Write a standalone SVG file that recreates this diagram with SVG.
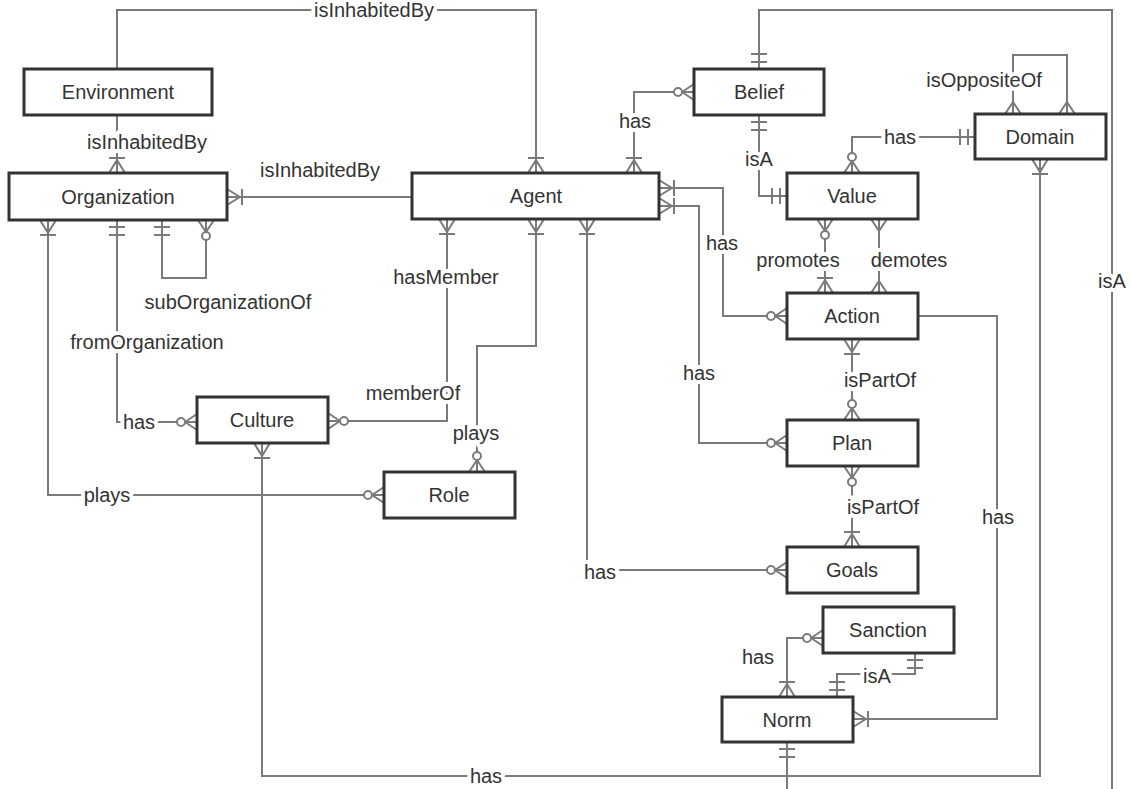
<svg xmlns="http://www.w3.org/2000/svg" width="1131" height="789" viewBox="0 0 1131 789">
<style>
.box{fill:#fff;stroke:#333;stroke-width:3}
.nt{font-family:"Liberation Sans",Arial,sans-serif;font-size:20px;fill:#333;text-anchor:middle;dominant-baseline:central}
.ln{fill:none;stroke:#7a7a7a;stroke-width:2}
.lb{font-family:"Liberation Sans",Arial,sans-serif;font-size:20px;fill:#333;text-anchor:middle;dominant-baseline:central;stroke:#fff;stroke-width:8;paint-order:stroke;stroke-linejoin:round}
.mk{fill:none;stroke:#7a7a7a;stroke-width:2}
</style>
<defs>
<marker id="om" markerUnits="userSpaceOnUse" orient="auto-start-reverse" overflow="visible" refX="0" refY="0" markerWidth="1" markerHeight="1">
<path class="mk" d="M-13,0 L0,-8 M-13,0 L0,8 M-15,-8 L-15,8"/>
</marker>
<marker id="zm" markerUnits="userSpaceOnUse" orient="auto-start-reverse" overflow="visible" refX="0" refY="0" markerWidth="1" markerHeight="1">
<path class="mk" d="M-12,0 L0,-8 M-12,0 L0,8"/>
<circle cx="-16" cy="0" r="4" fill="#fff" stroke="#7a7a7a" stroke-width="2"/>
</marker>
<marker id="one" markerUnits="userSpaceOnUse" orient="auto-start-reverse" overflow="visible" refX="0" refY="0" markerWidth="1" markerHeight="1">
<path class="mk" d="M-7,-8 L-7,8 M-15,-8 L-15,8"/>
</marker>
<marker id="many" markerUnits="userSpaceOnUse" orient="auto-start-reverse" overflow="visible" refX="0" refY="0" markerWidth="1" markerHeight="1">
<path class="mk" d="M-12,0 L0,-8 M-12,0 L0,8"/>
</marker>
</defs>
<rect width="1131" height="789" fill="#fff"/>
<g id="connectors">
<path class="ln" d="M117,69 V10 H536 V173" marker-end="url(#om)"/>
<path class="ln" d="M117,115 V173" marker-end="url(#om)"/>
<path class="ln" d="M227,197 H412" marker-start="url(#om)"/>
<path class="ln" d="M162,220 V278 H206 V220" marker-start="url(#one)" marker-end="url(#zm)"/>
<path class="ln" d="M117,220 V422 H197" marker-start="url(#one)" marker-end="url(#zm)"/>
<path class="ln" d="M48,220 V495 H384" marker-start="url(#om)" marker-end="url(#zm)"/>
<path class="ln" d="M447,219 V421 H328" marker-start="url(#om)" marker-end="url(#zm)"/>
<path class="ln" d="M536,219 V346 H477 V472" marker-start="url(#om)" marker-end="url(#zm)"/>
<path class="ln" d="M587,219 V570 H787" marker-start="url(#om)" marker-end="url(#zm)"/>
<path class="ln" d="M634,173 V92 H694" marker-start="url(#om)" marker-end="url(#zm)"/>
<path class="ln" d="M659,188 H723 V316 H787" marker-start="url(#om)" marker-end="url(#zm)"/>
<path class="ln" d="M659,206 H699 V443 H787" marker-start="url(#om)" marker-end="url(#zm)"/>
<path class="ln" d="M759,69 V10 H1112 V789" marker-start="url(#one)"/>
<path class="ln" d="M759,115 V196 H787" marker-start="url(#one)" marker-end="url(#one)"/>
<path class="ln" d="M852,173 V137 H975" marker-start="url(#zm)" marker-end="url(#one)"/>
<path class="ln" d="M1013,114 V55 H1067 V114" marker-start="url(#many)" marker-end="url(#many)"/>
<path class="ln" d="M262,443 V776 H1040 V159" marker-start="url(#om)" marker-end="url(#om)"/>
<path class="ln" d="M825,219 V293" marker-start="url(#zm)" marker-end="url(#om)"/>
<path class="ln" d="M879,219 V293" marker-start="url(#many)" marker-end="url(#many)"/>
<path class="ln" d="M852,339 V420" marker-start="url(#om)" marker-end="url(#zm)"/>
<path class="ln" d="M852,466 V547" marker-start="url(#zm)" marker-end="url(#om)"/>
<path class="ln" d="M918,316 H997 V719 H853" marker-end="url(#om)"/>
<path class="ln" d="M787,697 V638 H823" marker-start="url(#om)" marker-end="url(#zm)"/>
<path class="ln" d="M837,697 V674 H915 V653" marker-start="url(#one)" marker-end="url(#one)"/>
<path class="ln" d="M787,742 V789" marker-start="url(#one)"/>
<text class="lb" x="374" y="10">isInhabitedBy</text>
<text class="lb" x="147" y="142">isInhabitedBy</text>
<text class="lb" x="320" y="170">isInhabitedBy</text>
<text class="lb" x="228" y="302">subOrganizationOf</text>
<text class="lb" x="147" y="342">fromOrganization</text>
<text class="lb" x="139" y="422">has</text>
<text class="lb" x="107" y="495">plays</text>
<text class="lb" x="446" y="277">hasMember</text>
<text class="lb" x="413" y="393">memberOf</text>
<text class="lb" x="476" y="433">plays</text>
<text class="lb" x="600" y="572">has</text>
<text class="lb" x="635" y="121">has</text>
<text class="lb" x="722" y="243">has</text>
<text class="lb" x="699" y="373">has</text>
<text class="lb" x="759" y="159">isA</text>
<text class="lb" x="900" y="137">has</text>
<text class="lb" x="984" y="80">isOppositeOf</text>
<text class="lb" x="1112" y="281">isA</text>
<text class="lb" x="798" y="260">promotes</text>
<text class="lb" x="909" y="260">demotes</text>
<text class="lb" x="880" y="380">isPartOf</text>
<text class="lb" x="883" y="507">isPartOf</text>
<text class="lb" x="998" y="517">has</text>
<text class="lb" x="758" y="657">has</text>
<text class="lb" x="877" y="676">isA</text>
<text class="lb" x="486" y="776">has</text>
</g>
<g id="Environment"><rect class="box" x="24" y="69" width="188" height="46"/><text class="nt" x="118" y="92">Environment</text></g>
<g id="Organization"><rect class="box" x="9" y="173" width="218" height="47"/><text class="nt" x="118" y="197">Organization</text></g>
<g id="Agent"><rect class="box" x="412" y="173" width="247" height="46"/><text class="nt" x="536" y="196">Agent</text></g>
<g id="Belief"><rect class="box" x="694" y="69" width="130" height="46"/><text class="nt" x="759" y="92">Belief</text></g>
<g id="Domain"><rect class="box" x="975" y="114" width="131" height="45"/><text class="nt" x="1040" y="137">Domain</text></g>
<g id="Value"><rect class="box" x="787" y="173" width="131" height="46"/><text class="nt" x="852" y="196">Value</text></g>
<g id="Action"><rect class="box" x="787" y="293" width="131" height="46"/><text class="nt" x="852" y="316">Action</text></g>
<g id="Plan"><rect class="box" x="787" y="420" width="131" height="46"/><text class="nt" x="852" y="443">Plan</text></g>
<g id="Goals"><rect class="box" x="787" y="547" width="131" height="46"/><text class="nt" x="852" y="570">Goals</text></g>
<g id="Sanction"><rect class="box" x="823" y="607" width="131" height="46"/><text class="nt" x="888" y="630">Sanction</text></g>
<g id="Norm"><rect class="box" x="722" y="697" width="131" height="45"/><text class="nt" x="787" y="720">Norm</text></g>
<g id="Culture"><rect class="box" x="197" y="397" width="131" height="46"/><text class="nt" x="262" y="420">Culture</text></g>
<g id="Role"><rect class="box" x="384" y="472" width="131" height="46"/><text class="nt" x="449" y="495">Role</text></g>
</svg>
